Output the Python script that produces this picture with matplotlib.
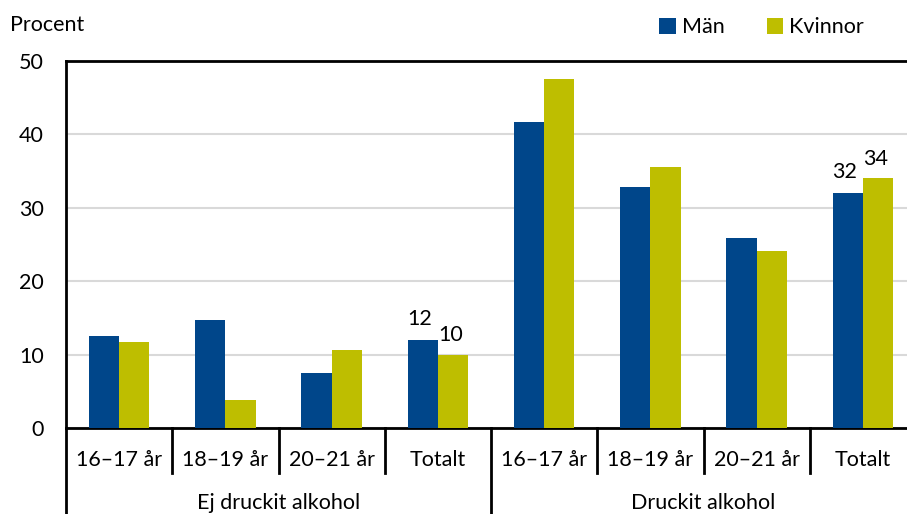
import matplotlib.pyplot as plt
from matplotlib.transforms import blended_transform_factory
import numpy as np

plt.rcParams['font.family'] = ['Lato', 'DejaVu Sans']

age_groups = ["16–17 år", "18–19 år", "20–21 år", "Totalt"]
sections = ["Ej druckit alkohol", "Druckit alkohol"]
man = [12.5, 14.7, 7.5, 12, 41.7, 32.8, 25.9, 32]
kvinnor = [11.7, 3.8, 10.6, 10, 47.5, 35.5, 24.1, 34]
labelled = [3, 7]
series_names = ["Män", "Kvinnor"]
colors = ["#00468A", "#BEBE00"]

FS = 15.5
W, H = 907, 514
fig = plt.figure(figsize=(W / 100, H / 100), dpi=100)
ax = fig.add_axes([66 / W, (H - 428) / H, (916 - 66) / W, 367 / H])

n = len(man)
x = np.arange(n)
bw = 0.285
ax.bar(x - bw / 2, man, bw, color=colors[0], label=series_names[0], zorder=3)
ax.bar(x + bw / 2, kvinnor, bw, color=colors[1], label=series_names[1], zorder=3)

for i in labelled:
    ax.annotate(f"{man[i]:.0f}", (x[i] - bw / 2, man[i]), xytext=(-2, 8),
                textcoords="offset points", ha="center", va="bottom", fontsize=FS)
    ax.annotate(f"{kvinnor[i]:.0f}", (x[i] + bw / 2, kvinnor[i]), xytext=(-2, 7),
                textcoords="offset points", ha="center", va="bottom", fontsize=FS)

ax.set_xlim(-0.5, n - 0.5)
ax.set_ylim(0, 50)
ax.set_yticks([0, 10, 20, 30, 40, 50])
ax.tick_params(axis="y", length=0, labelsize=FS, pad=16)
ax.set_xticks([])
ax.yaxis.grid(True, color="#d9d9d9", linewidth=1.5, zorder=0)
for s in ["left", "top", "bottom"]:
    ax.spines[s].set_color("black")
    ax.spines[s].set_linewidth(2)
ax.spines["right"].set_visible(False)

# category labels and separators below the axis
trans = blended_transform_factory(ax.transData, ax.transAxes)
px = 1 / 367
for i in range(n):
    ax.text(x[i], -32 * px, age_groups[i % 4], transform=trans,
            ha="center", va="center", fontsize=FS)
for b in np.arange(0.5, n - 0.5, 1.0):
    if b == 3.5:
        continue
    ax.plot([b, b], [0, -45 * px], transform=trans, color="black",
            linewidth=2, clip_on=False)
for b in [-0.5, 3.5]:
    ax.plot([b, b], [0, -90 * px], transform=trans, color="black",
            linewidth=2, clip_on=False)
for k, name in enumerate(sections):
    ax.text(1.5 + 4 * k, -75 * px, name, transform=trans,
            ha="center", va="center", fontsize=FS)

fig.text(10 / W, 1 - 25 / H, "Procent", ha="left", va="center", fontsize=FS)

leg = ax.legend(loc="upper left", bbox_to_anchor=(640 / W, 1 + 2 / H),
                bbox_transform=fig.transFigure, ncol=2, frameon=False,
                fontsize=FS, handlelength=0.75, handleheight=0.75,
                handletextpad=0.3, columnspacing=1.95)

fig.savefig("out.png", dpi=100)
